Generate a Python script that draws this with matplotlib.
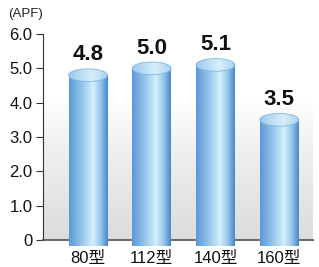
import numpy as np
import matplotlib
matplotlib.use("Agg")
import matplotlib.pyplot as plt
from matplotlib.colors import LinearSegmentedColormap
from matplotlib.patches import Ellipse, PathPatch
from matplotlib.path import Path

plt.rcParams["font.family"] = ["Liberation Sans", "Noto Sans CJK JP", "DejaVu Sans"]

categories = ["80型", "112型", "140型", "160型"]
values = [4.8, 5.0, 5.1, 3.5]
yticks = [0, 1.0, 2.0, 3.0, 4.0, 5.0, 6.0]
ytick_labels = ["0", "1.0", "2.0", "3.0", "4.0", "5.0", "6.0"]

body_cmap = LinearSegmentedColormap.from_list(
    "body",
    [(0.0, "#5a98d6"), (0.3, "#8ec1ea"), (0.62, "#d6effc"),
     (0.82, "#93c6ec"), (1.0, "#4686cc")],
)
top_cmap = LinearSegmentedColormap.from_list(
    "top", [(0.0, "#9ccaee"), (0.6, "#d8eefb"), (1.0, "#a8d2f0")]
)
bg_cmap = LinearSegmentedColormap.from_list(
    "bg", [(0.0, "#dcdcdc"), (0.45, "#f0f0f0"), (0.68, "#ffffff"), (1.0, "#ffffff")]
)

fig = plt.figure(figsize=(3.19, 2.67), dpi=100)
ax = fig.add_axes([43 / 319, 27 / 267, 270 / 319, 206 / 267])

# background gradient
bg = np.linspace(0, 1, 256).reshape(-1, 1)
ax.imshow(bg, extent=[0, 1, 0, 1], transform=ax.transAxes, origin="lower",
          aspect="auto", cmap=bg_cmap, zorder=0)

w = 0.61
eh = 0.37
grad = np.linspace(0, 1, 256).reshape(1, -1)

for i, v in enumerate(values):
    x0, x1 = i - w / 2, i + w / 2
    t = np.linspace(np.pi, 2 * np.pi, 40)
    arc = np.column_stack([i + w / 2 * np.cos(t), eh / 2 * np.sin(t)])
    verts = np.vstack([[x0, v], arc, [x1, v], [x0, v]])
    codes = [Path.MOVETO] + [Path.LINETO] * (len(verts) - 2) + [Path.CLOSEPOLY]
    body = PathPatch(Path(verts, codes), facecolor="none", edgecolor="none")
    ax.add_patch(body)
    im = ax.imshow(grad, extent=[x0, x1, -eh / 2, v], aspect="auto",
                   cmap=body_cmap, zorder=3, clip_on=False)
    im.set_clip_path(body)

    top = Ellipse((i, v), w, eh, facecolor="none", edgecolor="#7fb6e4",
                  linewidth=0.6, zorder=5)
    ax.add_patch(top)
    im2 = ax.imshow(grad, extent=[x0, x1, v - eh / 2, v + eh / 2],
                    aspect="auto", cmap=top_cmap, zorder=4)
    im2.set_clip_path(top)

    ax.annotate(f"{v:.1f}", (i, v), xytext=(0, 7), textcoords="offset points",
                ha="center", va="bottom", fontsize=16, fontweight="bold",
                color="#111111", zorder=6)

ax.set_xlim(-0.706, 3.53)
ax.set_ylim(0, 6.0)
ax.set_xticks(range(len(categories)))
ax.set_xticklabels(categories, fontsize=12)
ax.set_yticks(yticks)
ax.set_yticklabels(ytick_labels, fontsize=12)
ax.tick_params(axis="x", length=0, pad=8, colors="#111111")
ax.tick_params(axis="y", length=5, width=0.8, pad=2.5, colors="#333333",
               labelcolor="#111111")

ax.spines["top"].set_visible(False)
ax.spines["right"].set_visible(False)
ax.spines["left"].set_color("#333333")
ax.spines["left"].set_linewidth(0.8)
ax.spines["bottom"].set_color("#6e6e6e")
ax.spines["bottom"].set_linewidth(1.5)
ax.spines["bottom"].set_zorder(2)

fig.text(8 / 319, 1 - 14 / 267, "(APF)", fontsize=9.5, color="#222222",
         va="center", ha="left")

fig.savefig("out.png", dpi=100)
plt.close(fig)
